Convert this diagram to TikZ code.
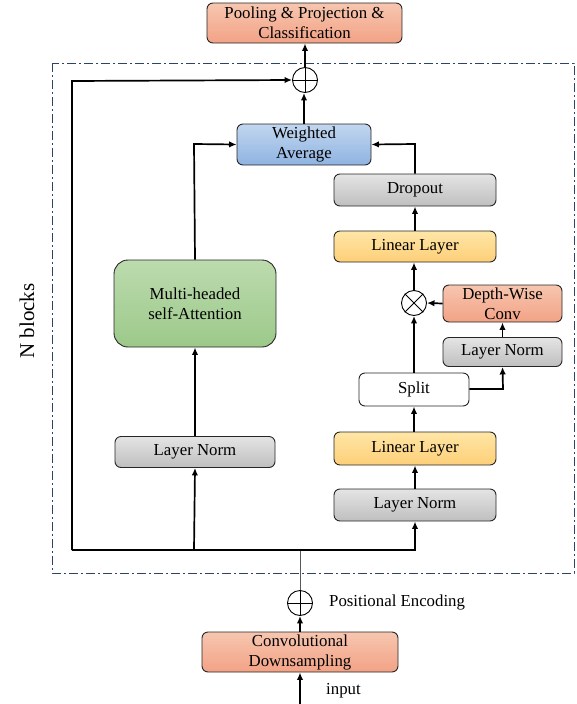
\documentclass[tikz,border=0pt]{standalone}
\usepackage{fontspec}
\setmainfont{Liberation Serif}
\usetikzlibrary{arrows.meta,shapes.geometric}
\definecolor{salT}{HTML}{F7C6AF}
\definecolor{salB}{HTML}{F2A286}
\definecolor{bluT}{HTML}{C2D6EF}
\definecolor{bluB}{HTML}{8EB3E1}
\definecolor{grnT}{HTML}{BCDBAE}
\definecolor{grnB}{HTML}{9CC98A}
\definecolor{yelT}{HTML}{FFE6A6}
\definecolor{yelB}{HTML}{FDCF78}
\definecolor{gryT}{HTML}{E4E4E4}
\definecolor{gryB}{HTML}{BFBFBF}
\definecolor{dashc}{HTML}{2E4467}
\tikzset{
  box/.style={draw=black!85, line width=0.9pt, rounded corners=6pt, align=center,
    inner sep=0pt, font=\fontsize{16.8}{20}\selectfont},
  salbox/.style={box, top color=salT, bottom color=salB},
  blubox/.style={box, top color=bluT, bottom color=bluB},
  grnbox/.style={box, top color=grnT, bottom color=grnB, rounded corners=14pt},
  yelbox/.style={box, top color=yelT, bottom color=yelB},
  grybox/.style={box, top color=gryT, bottom color=gryB},
  whtbox/.style={box, fill=white},
  opnode/.style={circle, draw=black, line width=0.9pt, minimum size=25pt, inner sep=0pt, fill=white},
  arr/.style={line width=1.7pt, -{Latex[length=7.5pt,width=6.5pt]}},
  ln/.style={line width=1.7pt},
  lbl/.style={font=\fontsize{16.8}{20}\selectfont, inner sep=0pt}
}
\begin{document}
\begin{tikzpicture}[x=1pt,y=-1pt]
\useasboundingbox (0,0) rectangle (577,704);
% dash-dot frame
\draw[dashc, line width=0.9pt, dash pattern=on 9pt off 3pt on 2pt off 3pt] (52,63) rectangle (574,573);
\node[lbl, rotate=90, font=\fontsize{21}{24}\selectfont] (nb) at (27,321) {N blocks};

% nodes
\node[salbox, minimum width=195pt, minimum height=40pt] (pool) at (304.5,23) {Pooling \& Projection \&\\Classification};
\node[opnode] (opt) at (305,80) {};
\draw[line width=0.9pt] (opt.north) -- (opt.south) (opt.west) -- (opt.east);
\node[blubox, minimum width=134pt, minimum height=41pt] (wa) at (304,144.5) {Weighted\\Average};
\node[grybox, minimum width=162pt, minimum height=32pt] (drop) at (415,190) {Dropout};
\node[yelbox, minimum width=162pt, minimum height=31pt] (lin2) at (415,246.5) {Linear Layer};
\node[salbox, minimum width=119pt, minimum height=37pt] (dw) at (502.5,303.5) {Depth-Wise\\Conv};
\node[opnode] (otm) at (414,303) {};
\draw[line width=0.9pt] (otm.north west) -- (otm.south east) (otm.north east) -- (otm.south west);
\node[grybox, minimum width=119pt, minimum height=29pt] (ln3) at (502.5,352) {Layer Norm};
\node[whtbox, minimum width=110pt, minimum height=33pt] (split) at (414,389.5) {Split};
\node[yelbox, minimum width=162pt, minimum height=33pt] (lin1) at (415,448.5) {Linear Layer};
\node[grybox, minimum width=162pt, minimum height=32pt] (ln2) at (415,505) {Layer Norm};
\node[grnbox, minimum width=162pt, minimum height=87pt] (mhsa) at (195,303.5) {Multi-headed\\self-Attention};
\node[grybox, minimum width=160pt, minimum height=31pt] (ln1) at (195,452) {Layer Norm};
\node[opnode] (opp) at (300,603) {};
\draw[line width=0.9pt] (opp.north) -- (opp.south) (opp.west) -- (opp.east);
\node[lbl, anchor=west] (pe) at (329,602) {Positional Encoding};
\node[salbox, minimum width=196pt, minimum height=40pt] (conv) at (300,652) {Convolutional\\Downsampling};
\node[lbl, anchor=west] (inp) at (326,691) {input};

% coordinates
\coordinate (inb) at (300,704);
\coordinate (jc) at (300,550);
\coordinate (jl) at (72,550);
\coordinate (jr) at (415,550);
\coordinate (jm) at (194,550);
\coordinate (tl) at (72,81);
\coordinate (mt) at (194,144);
\coordinate (dt) at (415,144);
\coordinate (sr) at (503,389);

% connectors
\draw[arr] (inb) -- (conv.south);
\draw[arr] (conv.north) -- (opp.south);
\draw[gray!70!black, line width=0.9pt] (opp.north) -- (jc);
\draw[ln] (jl) -- (jc);
\draw[arr] (jc) -- (jr) -- (ln2.south);
\draw[arr] (jm) -- (ln1.south);
\draw[arr] (jl) -- (tl) -- (opt.west);
\draw[arr] (ln1.north) -- (mhsa.south);
\draw[arr] (mhsa.north) -- (mt) -- (wa.west);
\draw[arr] (ln2.north) -- (lin1.north |- ln2.north) -- (lin1.south);
\draw[arr] (split.north |- lin1.north) -- (split.south);
\draw[arr] (split.north) -- (otm.south);
\draw[arr] (split.east |- sr) -- (sr) -- (ln3.south);
\draw[arr] (ln3.north) -- (dw.south);
\draw[arr] (dw.west) -- (otm.east);
\draw[arr] (otm.north) -- (otm.north |- lin2.south);
\draw[arr] (lin2.north) -- (drop.south);
\draw[arr] (drop.north) -- (dt) -- (wa.east);
\draw[arr] (wa.north) -- (wa.north |- opt.south) ;
\draw[arr] (opt.north) -- (opt.north |- pool.south);
\end{tikzpicture}
\end{document}
